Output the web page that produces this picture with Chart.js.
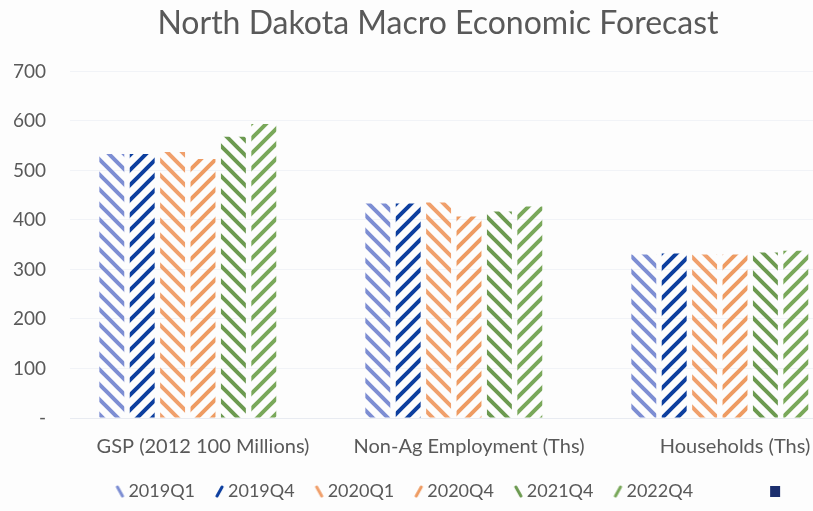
<!DOCTYPE html>
<html>
<head>
<meta charset="utf-8">
<script src="https://cdn.jsdelivr.net/npm/chart.js@4/dist/chart.umd.min.js"></script>
<style>
  html,body{margin:0;padding:0;background:#fdfdfd;overflow:hidden;}
  #wrap{position:absolute;left:0;top:0;width:890px;height:511px;}
</style>
</head>
<body>
<div id="wrap"><canvas id="chart"></canvas></div>
<script>
// Data
const categories = ["GSP (2012 100 Millions)", "Non-Ag Employment (Ths)", "Households (Ths)"];
const seriesNames = ["2019Q1", "2019Q4", "2020Q1", "2020Q4", "2021Q4", "2022Q4", ""];
const q2019Q1 = [533, 433, 330];
const q2019Q4 = [533, 433, 332];
const q2020Q1 = [537, 435, 330];
const q2020Q4 = [523, 407, 330];
const q2021Q4 = [568, 417, 334];
const q2022Q4 = [594, 427, 338];
const emptySeries = [null, null, null];
const yTicks = [0, 100, 200, 300, 400, 500, 600, 700];

const colors = ["#7d8ed3", "#0d3f9f", "#f0a06c", "#ee9b62", "#6c9a50", "#79a85a", "#1c2f6e"];
const dirs = ["down", "up", "down", "up", "down", "up", "solid"];

// diagonal hatch pattern, dir "down" = \ , "up" = /
function hatch(color, dir){
  const s = 15, c = document.createElement("canvas");
  c.width = s; c.height = s;
  const g = c.getContext("2d");
  g.strokeStyle = color; g.lineWidth = 4; g.lineCap = "square";
  g.beginPath();
  if(dir === "down"){
    g.moveTo(-s, -s); g.lineTo(2*s, 2*s);
    g.moveTo(-s, 0); g.lineTo(s, 2*s);
    g.moveTo(0, -s); g.lineTo(2*s, s);
  } else {
    g.moveTo(-s, 2*s); g.lineTo(2*s, -s);
    g.moveTo(-s, s); g.lineTo(s, -s);
    g.moveTo(0, 2*s); g.lineTo(2*s, 0);
  }
  g.stroke();
  return g.createPattern(c, "repeat");
}

// legend marker, drawn in the right part of a wider canvas so it sits close to the text
function legendIcon(color, dir){
  const c = document.createElement("canvas");
  c.height = 14;
  const g = () => c.getContext("2d");
  if(dir === "solid"){
    // the last (unlabelled) entry sits further right, as in the source
    c.width = 140;
    const ctx = g();
    ctx.fillStyle = color; ctx.fillRect(128, 2, 10, 11);
    return c;
  }
  c.width = 22;
  const ctx = g();
  ctx.strokeStyle = color; ctx.lineWidth = 3; ctx.lineCap = "round";
  ctx.beginPath();
  if(dir === "down"){ ctx.moveTo(14, 3); ctx.lineTo(19, 12); }
  else { ctx.moveTo(14, 12); ctx.lineTo(19, 3); }
  ctx.stroke();
  return c;
}

const values = [q2019Q1, q2019Q4, q2020Q1, q2020Q4, q2021Q4, q2022Q4, emptySeries];
const datasets = values.map((v, i) => ({
  label: seriesNames[i],
  data: v,
  backgroundColor: dirs[i] === "solid" ? colors[i] : hatch(colors[i], dirs[i]),
  borderWidth: 0,
  categoryPercentage: 0.8,
  barPercentage: 0.82
}));
const icons = colors.map((c, i) => legendIcon(c, dirs[i]));

new Chart(document.getElementById("chart"), {
  type: "bar",
  data: { labels: categories, datasets },
  options: {
    responsive: true,
    maintainAspectRatio: false,
    animation: false,
    layout: { padding: { left: 8, right: 22, top: 4, bottom: 1 } },
    scales: {
      y: {
        min: 0, max: 700,
        afterFit: s => { s.width = 62; },
        afterBuildTicks: s => { s.ticks = yTicks.map(v => ({ value: v })); },
        ticks: {
          color: "#595959", padding: 24,
          font: { family: "Lato", size: 19 },
          callback: v => v === 0 ? "-" : v
        },
        grid: { color: "rgba(215,222,234,0.3)", drawTicks: false },
        border: { display: false }
      },
      x: {
        ticks: { color: "#595959", padding: 9, font: { family: "Lato", size: 20 } },
        grid: { display: false },
        border: { color: "#e8ebf1" }
      }
    },
    plugins: {
      title: {
        display: true,
        text: "North Dakota Macro Economic Forecast",
        color: "#595959",
        font: { family: "Lato", size: 32, weight: "normal" },
        padding: { top: 0, bottom: 29 }
      },
      legend: {
        position: "bottom",
        labels: {
          color: "#595959",
          font: { family: "Lato", size: 18 },
          usePointStyle: true,
          pointStyleWidth: 10,
          padding: 14,
          generateLabels: chart => chart.data.datasets.map((d, i) => ({
            text: d.label || "\u2003\u2003\u2003",
            pointStyle: icons[i],
            fillStyle: colors[i],
            strokeStyle: colors[i],
            lineWidth: 0,
            fontColor: "#595959",
            hidden: false,
            datasetIndex: i
          }))
        }
      },
      tooltip: { enabled: false }
    }
  }
});
</script>
</body>
</html>
